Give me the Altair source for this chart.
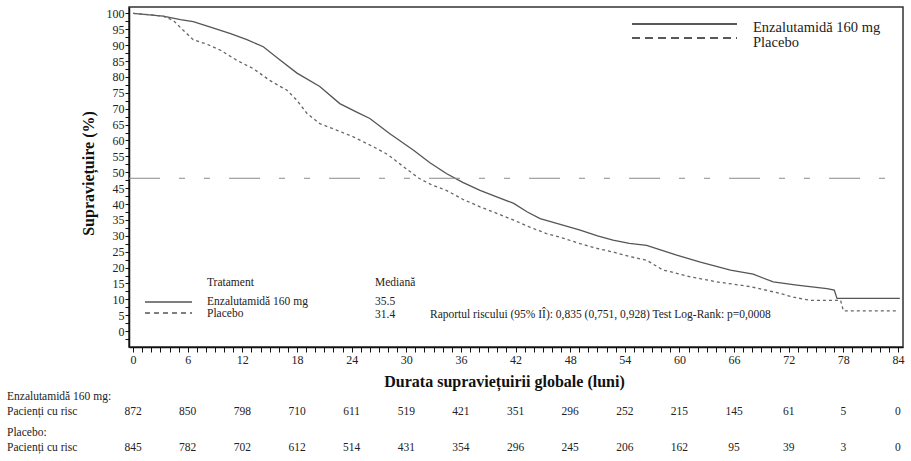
import altair as alt
import pandas as pd

# Kaplan-Meier overall survival estimates (months, % surviving)
enza_t = [0, 1.5, 3.3, 5.2, 6.6, 8.5, 10.7, 12.5, 14.3, 16.1, 18.0, 20.5, 22.7, 24.5,
          26.0, 28.2, 30.8, 32.6, 34.4, 36.2, 38.1, 40.0, 41.8, 43.3, 44.7, 47.0,
          49.1, 51.0, 52.7, 54.5, 56.4, 58.0, 59.7, 62.3, 65.6, 68.1, 70.3, 72.9,
          76.2, 77.0, 77.3, 84.2]
enza_s = [100, 99.6, 99.1, 98.0, 97.4, 95.7, 93.6, 91.7, 89.5, 85.4, 81.2, 77.0, 71.6,
          69.0, 66.9, 62.1, 56.9, 53.0, 49.6, 46.8, 44.3, 42.2, 40.2, 37.5, 35.4, 33.5,
          31.8, 30.0, 28.6, 27.6, 27.0, 25.5, 23.9, 21.7, 19.2, 17.9, 15.5, 14.5,
          13.4, 12.9, 10.3, 10.3]

plac_t = [0, 2.0, 3.3, 4.4, 5.5, 6.6, 8.1, 9.6, 11.4, 13.2, 15.0, 16.9, 18.0, 19.1,
          20.5, 22.4, 24.2, 26.4, 28.0, 29.8, 31.4, 32.8, 34.4, 36.2, 38.1, 40.0,
          41.8, 43.5, 45.4, 47.3, 49.1, 51.0, 52.7, 54.5, 56.4, 58.2, 59.0, 61.2,
          64.1, 67.8, 70.7, 72.5, 74.3, 77.7, 78.0, 84.0]
plac_s = [100, 99.5, 99.1, 97.8, 94.7, 91.7, 90.3, 88.4, 85.2, 82.6, 78.9, 75.8, 72.6,
          68.5, 65.3, 63.2, 61.1, 58.0, 55.5, 51.5, 48.1, 46.0, 44.3, 41.5, 39.1, 37.0,
          34.9, 32.8, 30.7, 29.2, 27.5, 26.0, 24.9, 23.5, 22.3, 19.2, 18.7, 17.1,
          15.5, 14.0, 12.1, 10.7, 9.7, 9.7, 6.4, 6.4]

# Median reference level
ref_level = [48.1]

# Number at risk table
risk_months = [0, 6, 12, 18, 24, 30, 36, 42, 48, 54, 60, 66, 72, 78, 84]
risk_enza = [872, 850, 798, 710, 611, 519, 421, 351, 296, 252, 215, 145, 61, 5, 0]
risk_plac = [845, 782, 702, 612, 514, 431, 354, 296, 245, 206, 162, 95, 39, 3, 0]

FONT = "Liberation Serif"
TXT = "#222222"

enza_df = pd.DataFrame({"t": enza_t, "s": enza_s})
plac_df = pd.DataFrame({"t": plac_t, "s": plac_s})

x_scale = alt.Scale(domain=[-0.45, 84.55], nice=False, zero=False)
y_scale = alt.Scale(domain=[-5, 102], nice=False, zero=False)

x_axis = alt.Axis(
    values=list(range(0, 85)),
    labelExpr="datum.value % 6 == 0 ? datum.label : ''",
    labelOverlap=False,
    tickSize=5, tickColor="#111", domainColor="#111", domainWidth=1.5,
    labelFont=FONT, labelFontSize=12, labelColor=TXT, labelPadding=2,
    grid=False, labelFlush=False,
    title="Durata supraviețuirii globale (luni)",
    titleFont=FONT, titleFontSize=16, titleFontWeight="bold", titleColor="#111",
    titleX=375, titleY=34, titleAlign="center", titleBaseline="middle",
)
y_axis = alt.Axis(
    values=[v * 2.5 for v in range(-1, 41)],
    labelExpr="datum.value >= 0 && datum.value % 5 == 0 ? datum.label : ''",
    labelOverlap=False,
    tickSize=4, tickColor="#111", domainColor="#111", domainWidth=1.5,
    labelFont=FONT, labelFontSize=12, labelColor=TXT, labelPadding=1,
    grid=False, labelFlush=False,
    title="Supraviețuire (%)",
    titleFont=FONT, titleFontSize=16, titleFontWeight="bold", titleColor="#111",
    titleX=-41, titleY=166, titleAngle=270, titleAlign="center", titleBaseline="middle",
)

X = alt.X("t:Q", scale=x_scale, axis=x_axis)

enza_line = alt.Chart(enza_df).mark_line(color="#555555", strokeWidth=1.3).encode(
    x=X, y=alt.Y("s:Q", scale=y_scale, axis=y_axis),
)
plac_line = alt.Chart(plac_df).mark_line(
    color="#666666", strokeWidth=1.3, strokeDash=[3, 3]
).encode(x=X, y=alt.Y("s:Q", scale=y_scale, axis=y_axis))

# Horizontal reference line, drawn left to right so the dash pattern starts at the axis
ref_rule = alt.Chart(pd.DataFrame({"y": ref_level})).mark_rule(
    color="#8a8a8a", strokeWidth=1, strokeDash=[31, 19, 6, 19, 6, 19]
).encode(x=alt.value(0), x2=alt.value(774), y=alt.Y("y:Q", scale=y_scale, axis=y_axis))

# Legend in the upper right corner
leg_df = pd.DataFrame({"k": [0]})
top_solid = alt.Chart(leg_df).mark_rule(color="#222", strokeWidth=1.5).encode(
    x=alt.value(503), x2=alt.value(608), y=alt.value(17))
top_dash = alt.Chart(leg_df).mark_rule(color="#222", strokeWidth=1.5, strokeDash=[8, 5]).encode(
    x=alt.value(503), x2=alt.value(608), y=alt.value(31))
top_txt = alt.Chart(pd.DataFrame({
    "label": ["Enzalutamidă 160 mg", "Placebo"], "py": [20.5, 35.5]
})).mark_text(font=FONT, fontSize=14.5, color=TXT, align="left", baseline="middle").encode(
    x=alt.value(624), y=alt.Y("py:Q", scale=None), text="label:N")

# Treatment / median summary inside the plot
low_solid = alt.Chart(leg_df).mark_rule(color="#555", strokeWidth=1.5).encode(
    x=alt.value(16), x2=alt.value(63), y=alt.value(295))
low_dash = alt.Chart(leg_df).mark_rule(color="#555", strokeWidth=1.5, strokeDash=[5, 4]).encode(
    x=alt.value(16), x2=alt.value(63), y=alt.value(306))
low_txt = alt.Chart(pd.DataFrame({
    "label": ["Tratament", "Mediană", "Enzalutamidă 160 mg", "35.5", "Placebo", "31.4",
              "Raportul riscului (95% IÎ): 0,835 (0,751, 0,928) Test Log-Rank: p=0,0008"],
    "px": [78, 246, 78, 246, 78, 246, 301],
    "py": [276, 276, 295, 295, 307, 308, 308],
})).mark_text(font=FONT, fontSize=11.5, color=TXT, align="left", baseline="middle").encode(
    x=alt.X("px:Q", scale=None), y=alt.Y("py:Q", scale=None), text="label:N")

# Number-at-risk table below the axis
risk_df = pd.DataFrame({"t": risk_months, "enza": risk_enza, "plac": risk_plac})
risk_style = dict(font=FONT, fontSize=11.5, color=TXT, align="center", baseline="middle")
risk_row1 = alt.Chart(risk_df).mark_text(**risk_style).encode(
    x=X, y=alt.value(405), text="enza:Q")
risk_row2 = alt.Chart(risk_df).mark_text(**risk_style).encode(
    x=X, y=alt.value(441), text="plac:Q")
row_labels = alt.Chart(pd.DataFrame({
    "label": ["Enzalutamidă 160 mg:", "Pacienți cu risc", "Placebo:", "Pacienți cu risc"],
    "py": [390, 405, 426, 441],
})).mark_text(font=FONT, fontSize=11.5, color=TXT, align="left", baseline="middle").encode(
    x=alt.value(-122), y=alt.Y("py:Q", scale=None), text="label:N")

chart = alt.layer(
    enza_line, ref_rule, plac_line,
    top_solid, top_dash, top_txt,
    low_solid, low_dash, low_txt,
    risk_row1, risk_row2, row_labels,
).properties(
    width=774, height=340,
    autosize=alt.AutoSizeParams(type="none"),
    padding={"left": 129, "top": 7, "right": 8, "bottom": 114},
    background="white",
).configure_view(stroke="#333333", strokeWidth=1.5)

chart.save("out.html", embed_options={"renderer": "svg", "actions": False})
